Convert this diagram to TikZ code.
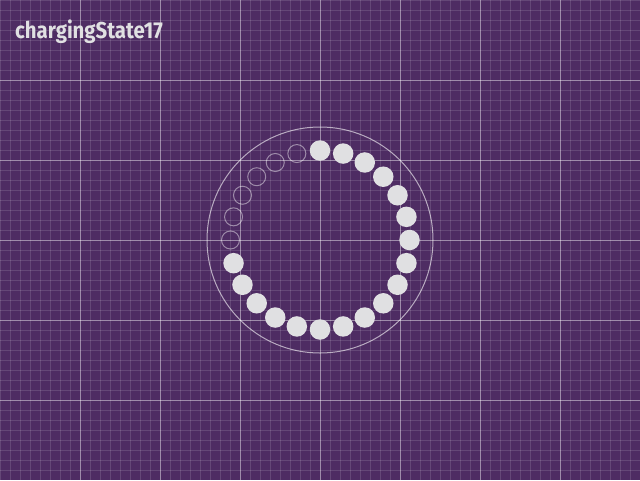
\documentclass[tikz,border=0pt]{standalone}
\usepackage{fontspec}
\setmainfont{Fira Sans}
\usetikzlibrary{calc}
\begin{document}
\begin{tikzpicture}[x=1pt,y=-1pt,
  minorline/.style={white,opacity=0.13,line width=1pt},
  majorline/.style={white,opacity=0.38,line width=1pt},
  ring/.style={draw=white,draw opacity=0.6,line width=1pt},
  fulldot/.style={circle,fill=dotgray,minimum size=20.5pt,inner sep=0pt,draw=none},
  emptydot/.style={circle,draw=white,draw opacity=0.45,line width=1pt,minimum size=18pt,inner sep=0pt},
  title/.style={anchor=base west,inner sep=0pt,text=dotgray,font=\bfseries\fontsize{23}{27}\selectfont}]
\definecolor{bgpurple}{RGB}{78,44,99}
\definecolor{dotgray}{RGB}{224,224,226}
\fill[bgpurple] (0,0) rectangle (640,480);
\useasboundingbox (0,0) rectangle (640,480);
\foreach \i in {0,10,...,640} {\draw[minorline] (\i,0) -- (\i,480);}
\foreach \j in {0,10,...,480} {\draw[minorline] (0,\j) -- (640,\j);}
\foreach \i in {80,160,...,560} {\draw[majorline] (\i,0) -- (\i,480);}
\foreach \j in {80,160,...,400} {\draw[majorline] (0,\j) -- (640,\j);}
\coordinate (c) at (320,240);
\draw[ring] (c) circle[radius=113];
\foreach \k in {0,...,17} {
  \node[fulldot] (d\k) at ($(c)+({90-15*\k}:89.5 and -89.5)$) {};
}
\foreach \k in {18,...,23} {
  \node[emptydot] (d\k) at ($(c)+({90-15*\k}:89.5 and -89.5)$) {};
}
\node[title] (t) at (15,38) {\scalebox{0.885}[1]{chargingState17}};
\end{tikzpicture}
\end{document}
